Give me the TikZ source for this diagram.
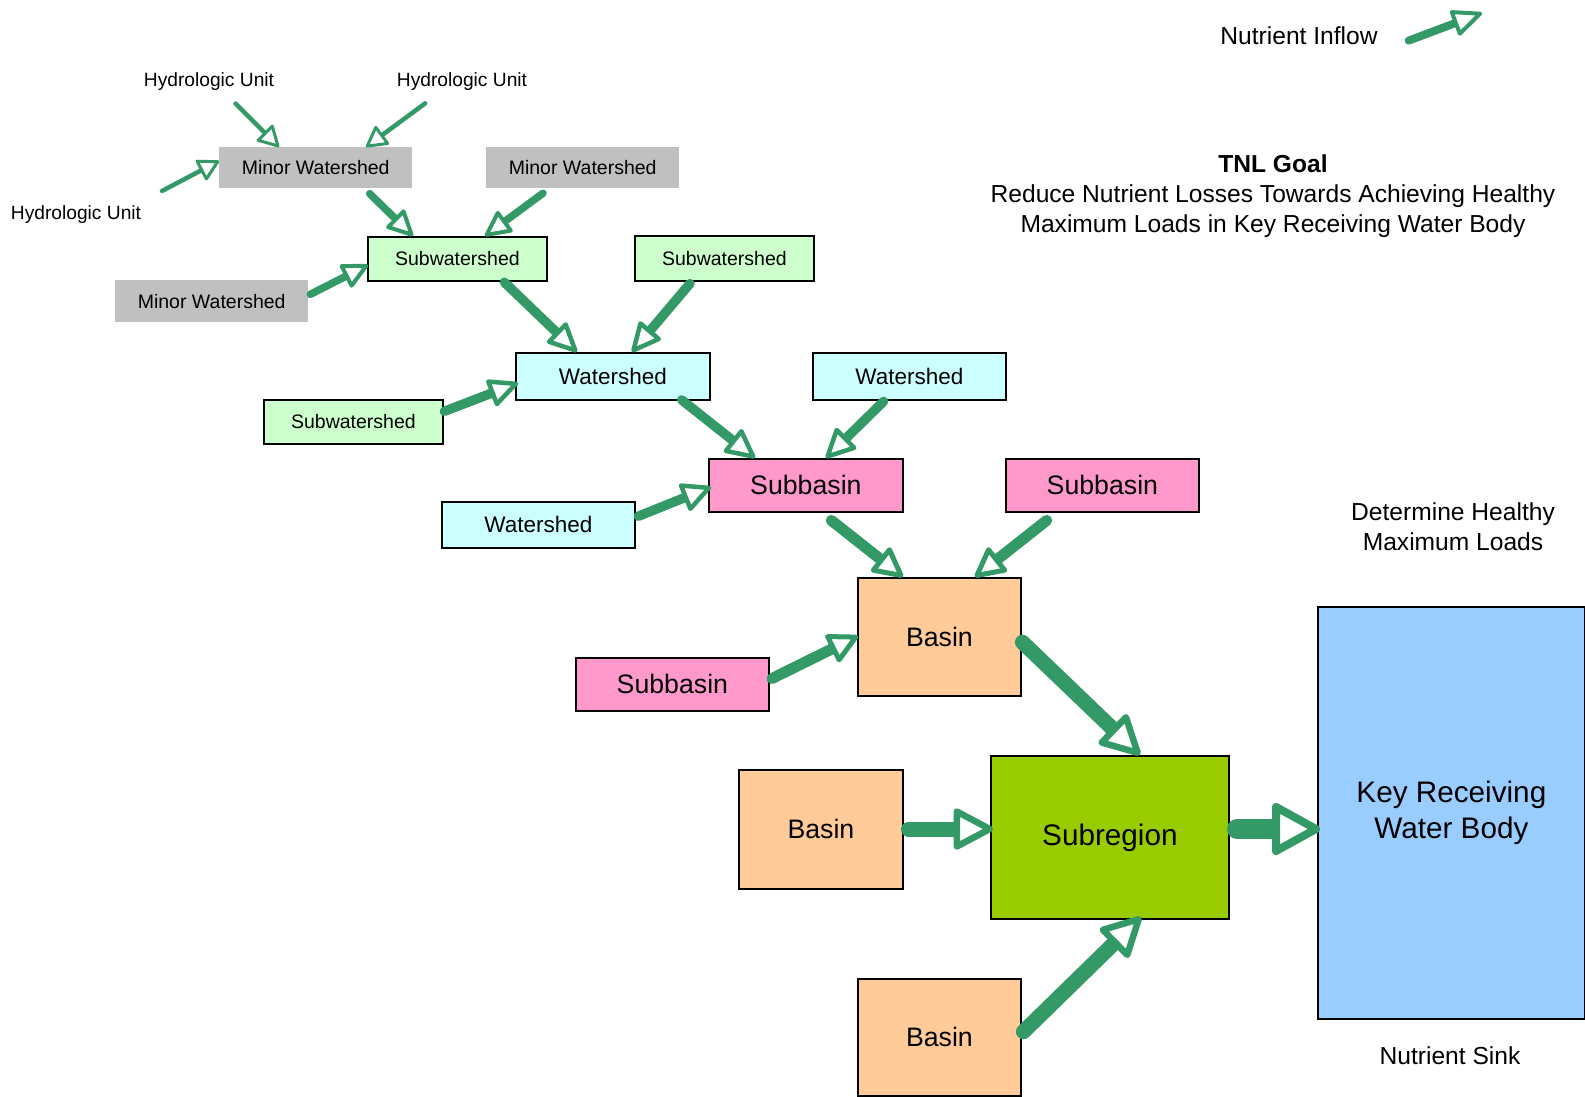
\documentclass[tikz,border=0pt]{standalone}
\usepackage{fontspec}
\setmainfont{Liberation Sans}
\usetikzlibrary{calc}
\definecolor{flow}{HTML}{339966}
\definecolor{mwgrey}{HTML}{C0C0C0}
\definecolor{swgreen}{HTML}{CCFFCC}
\definecolor{wscyan}{HTML}{CCFFFF}
\definecolor{sbpink}{HTML}{FF99CC}
\definecolor{bpeach}{HTML}{FFCC99}
\definecolor{srgreen}{HTML}{99CC00}
\definecolor{keyblue}{HTML}{99CCFF}
\tikzset{
  basebox/.style={inner sep=0pt, anchor=north west, text=black},
  mwbox/.style={basebox, fill=mwgrey, font=\fontsize{19.5}{22}\selectfont},
  swbox/.style={basebox, draw=black, line width=1.8pt, fill=swgreen, font=\fontsize{19.5}{22}\selectfont},
  wsbox/.style={basebox, draw=black, line width=1.8pt, fill=wscyan, font=\fontsize{22.5}{26}\selectfont},
  sbbox/.style={basebox, draw=black, line width=1.8pt, fill=sbpink, font=\fontsize{26.7}{30}\selectfont},
  bbox/.style={basebox, draw=black, line width=1.8pt, fill=bpeach, font=\fontsize{26.7}{30}\selectfont},
  srbox/.style={basebox, draw=black, line width=1.8pt, fill=srgreen, font=\fontsize{29.7}{34}\selectfont},
  keybox/.style={basebox, draw=black, line width=1.8pt, fill=keyblue, align=center, font=\fontsize{29.7}{36}\selectfont},
  hulbl/.style={inner sep=0pt, font=\fontsize{19.2}{22}\selectfont},
  lbl/.style={inner sep=0pt, align=center, font=\fontsize{24.6}{30}\selectfont},
  flowshaft/.style={draw=flow, line cap=round},
  flowhead/.style={draw=flow, fill=white, line join=round},
}
% #1 from, #2 to (outer tip), #3 shaft width, #4 head length, #5 head width, #6 head outline width
\newcommand\flowarrow[6]{%
  \coordinate (fa-s) at ($(#1)!#3/2!(#2)$);
  \coordinate (fa-t) at ($(#2)!#6/2!(#1)$);
  \coordinate (fa-b) at ($(fa-t)!#4!(fa-s)$);
  \draw[flowshaft, line width=#3] (fa-s) -- (fa-b);
  \draw[flowhead, line width=#6] (fa-t) -- ($(fa-b)!#5/2!90:(fa-t)$) -- ($(fa-b)!#5/2!-90:(fa-t)$) -- cycle;
}
\begin{document}
\begin{tikzpicture}[x=1pt,y=-1pt]
\useasboundingbox[fill=white] (0,0) rectangle (1585,1096);

% labels
\node[hulbl] (hu1) at (209,82) {Hydrologic Unit};
\node[hulbl] (hu2) at (462,82) {Hydrologic Unit};
\node[hulbl] (hu3) at (76,215) {Hydrologic Unit};
\node[lbl] (inflow) at (1299,36) {Nutrient Inflow};
\coordinate (legtip) at (1482,13);
\node[lbl] (goal) at (1273,196) {\textbf{TNL Goal}\\Reduce Nutrient Losses Towards Achieving Healthy\\Maximum Loads in Key Receiving Water Body};
\node[lbl] (det) at (1453,527) {Determine Healthy\\Maximum Loads};
\node[lbl] (sink) at (1450,1056) {Nutrient Sink};

% minor watersheds
\node[mwbox, minimum width=193pt, minimum height=41pt] (mw1) at (219,147) {Minor Watershed};
\node[mwbox, minimum width=193pt, minimum height=41pt] (mw2) at (486,147) {Minor Watershed};
\node[mwbox, minimum width=193pt, minimum height=42pt] (mw3) at (115,280) {Minor Watershed};

% subwatersheds
\node[swbox, minimum width=179pt, minimum height=44pt] (sw1) at (367,236) {Subwatershed};
\node[swbox, minimum width=179pt, minimum height=45pt] (sw2) at (634,235) {Subwatershed};
\node[swbox, minimum width=179pt, minimum height=44pt] (sw3) at (263,399) {Subwatershed};

% watersheds
\node[wsbox, minimum width=194pt, minimum height=47pt] (ws1) at (515,352) {Watershed};
\node[wsbox, minimum width=193pt, minimum height=47pt] (ws2) at (812,352) {Watershed};
\node[wsbox, minimum width=193pt, minimum height=46pt] (ws3) at (441,501) {Watershed};

% subbasins
\node[sbbox, minimum width=194pt, minimum height=53pt] (sb1) at (708,458) {Subbasin};
\node[sbbox, minimum width=193pt, minimum height=53pt] (sb2) at (1005,458) {Subbasin};
\node[sbbox, minimum width=193pt, minimum height=53pt] (sb3) at (575,657) {Subbasin};

% basins
\node[bbox, minimum width=163pt, minimum height=118pt] (b1) at (857,577) {Basin};
\node[bbox, minimum width=164pt, minimum height=119pt] (b2) at (738,769) {Basin};
\node[bbox, minimum width=163pt, minimum height=117pt] (b3) at (857,978) {Basin};

% subregion and key water body
\node[srbox, minimum width=238pt, minimum height=163pt] (sr) at (990,755) {Subregion};
\node[keybox, minimum width=267pt, minimum height=412pt] (key) at (1317,606) {Key Receiving\\Water Body};

% connectors
\flowarrow{[shift={(25,20)}]hu1.center}{[shift={(60,0)}]mw1.north west}{4.5pt}{18pt}{20pt}{3pt}
\flowarrow{[shift={(-35,20)}]hu2.center}{[shift={(147,0)}]mw1.north west}{4.5pt}{18pt}{20pt}{3pt}
\flowarrow{[shift={(84,-23)}]hu3.center}{[shift={(0,14)}]mw1.north west}{4.5pt}{18pt}{20pt}{3pt}

\flowarrow{[shift={(148,44)}]mw1.north west}{[shift={(46,0)}]sw1.north west}{7.5pt}{22pt}{22pt}{4pt}
\flowarrow{[shift={(60,44)}]mw2.north west}{[shift={(118,0)}]sw1.north west}{7.5pt}{22pt}{22pt}{4pt}
\flowarrow{[shift={(192,16)}]mw3.north west}{[shift={(1,29)}]sw1.north west}{7.5pt}{22pt}{22pt}{4pt}

\flowarrow{[shift={(134,43)}]sw1.north west}{[shift={(62,0)}]ws1.north west}{9.5pt}{25pt}{24pt}{4.5pt}
\flowarrow{[shift={(59,45)}]sw2.north west}{[shift={(117,0)}]ws1.north west}{9.5pt}{25pt}{24pt}{4.5pt}
\flowarrow{[shift={(177,14)}]sw3.north west}{[shift={(3,31)}]ws1.north west}{9.5pt}{25pt}{24pt}{4.5pt}

\flowarrow{[shift={(163,45)}]ws1.north west}{[shift={(47,0)}]sb1.north west}{9.5pt}{25pt}{25pt}{4.5pt}
\flowarrow{[shift={(75,46)}]ws2.north west}{[shift={(118,0)}]sb1.north west}{9.5pt}{25pt}{25pt}{4.5pt}
\flowarrow{[shift={(193,17)}]ws3.north west}{[shift={(3,29)}]sb1.north west}{9.5pt}{25pt}{25pt}{4.5pt}

\flowarrow{[shift={(119,59)}]sb1.north west}{[shift={(46,0)}]b1.north west}{11pt}{25pt}{26pt}{5pt}
\flowarrow{[shift={(46,59)}]sb2.north west}{[shift={(118,0)}]b1.north west}{11pt}{25pt}{26pt}{5pt}
\flowarrow{[shift={(192,24)}]sb3.north west}{[shift={(1,59)}]b1.north west}{11pt}{25pt}{26pt}{5pt}

\flowarrow{[shift={(160,60)}]b1.north west}{[shift={(150,0)}]sr.north west}{15pt}{33pt}{35pt}{6.5pt}
\flowarrow{[shift={(163,60)}]b2.north west}{[shift={(3,74)}]sr.north west}{15pt}{33pt}{35pt}{6.5pt}
\flowarrow{[shift={(161,59)}]b3.north west}{[shift={(151,162)}]sr.north west}{15pt}{33pt}{35pt}{6.5pt}

\flowarrow{[shift={(237,74)}]sr.north west}{[shift={(3,223)}]key.north west}{20pt}{40pt}{44pt}{8pt}

\flowarrow{[shift={(106,6)}]inflow.center}{legtip}{8pt}{26pt}{23pt}{4pt}
\end{tikzpicture}
\end{document}
